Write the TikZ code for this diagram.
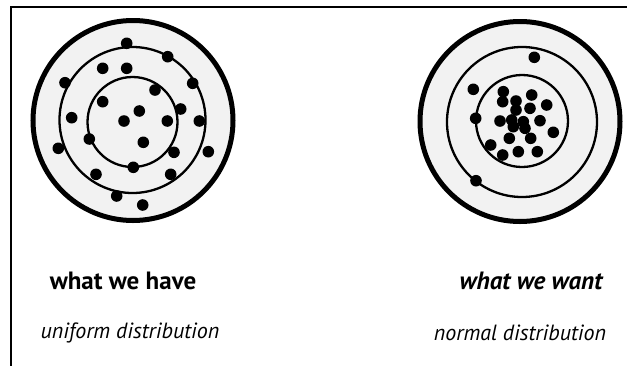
\documentclass[tikz,border=0pt]{standalone}
\usepackage{fontspec}
\setmainfont{PT Sans}
\usepackage{xcolor}
\usetikzlibrary{positioning}
\definecolor{fondo}{HTML}{F2F2F2}
\tikzset{
  every picture/.style={x=1pt, y=-1pt},
  marco/.style={draw=black, line width=2pt},
  aro/.style={draw=black, line width=5pt, fill=fondo},
  anillo/.style={draw=black, line width=2.3pt},
  punto/.style={fill=black},
  titulo/.style={font=\fontsize{25}{29}\selectfont\bfseries, inner sep=0pt},
  subtitulo/.style={font=\fontsize{22}{26}\selectfont\itshape, inner sep=0pt},
}

\begin{document}
\begin{tikzpicture}
  \useasboundingbox (0,0) rectangle (627,365);
  \draw[marco] (11,366) -- (11,7) -- (628,7);
  % left target: uniform
  \draw[aro] (133,120.5) circle (100);
  \draw[anillo] (132.5,120) circle (73);
  \draw[anillo] (132.5,122) circle (45);
  \foreach \x/\y in {126.7/43.3, 167.7/56.7, 102.7/68.3, 126.7/68.3, 65/82.7, 192.7/83.3,
      155/90, 102.7/101.7, 139.3/111, 180.7/109, 71.7/117.7, 124/121, 167.3/121, 199.3/121,
      89.3/139, 143.3/142.3, 58.3/148.3, 208.3/151.7, 174/152.3, 133.3/167.3, 96/174.3,
      170.7/174.3, 116.7/196, 142.7/205}
    \fill[punto] (\x,\y) circle (5.8);
  % right target: normal
  \draw[aro] (520,121.5) circle (100);
  \draw[anillo] (522,122) circle (75);
  \draw[anillo] (522,121) circle (46);
  \foreach \x/\y in {534.3/57.3, 473.3/89.3, 503.3/91.7, 531.7/95, 502.7/101.7, 516/101,
      546.7/105, 516/110, 530/108.3, 475.7/118.3, 500/121, 511.7/120, 523.3/121.7, 540/120.7,
      525/128.3, 513.3/126.7, 553.3/132.3, 509.3/138.3, 530.7/138.3, 490.7/145, 518.3/151.7,
      537.3/151.7, 502.7/155, 476/180.7}
    \fill[punto] (\x,\y) circle (5.8);
  % labels
  \node[titulo] (tenemos) at (123,281) {what we have};
  \node[subtitulo] (uniforme) at (130,333) {uniform distribution};
  \node[titulo, font=\fontsize{25}{29}\selectfont\bfseries\itshape] (queremos) at (531,281) {what we want};
  \node[subtitulo] (normal) at (520,333) {normal distribution};
\end{tikzpicture}
\end{document}
